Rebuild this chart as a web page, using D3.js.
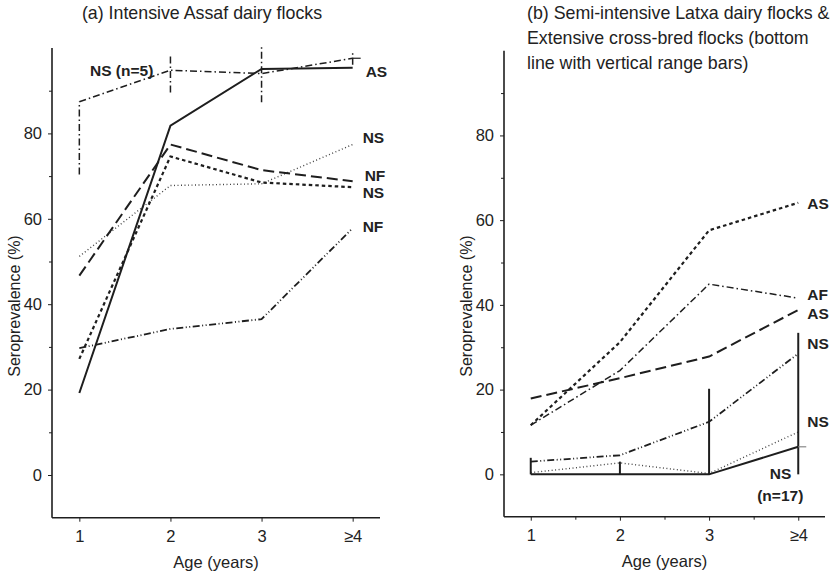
<!DOCTYPE html>
<html><head><meta charset="utf-8">
<script src="https://cdn.jsdelivr.net/npm/d3@7"></script>
<style>body{margin:0;background:#fff}svg{display:block}text{font-family:"Liberation Sans",Arial,sans-serif;fill:#222}</style>
</head><body><svg id="c" width="835" height="574"></svg>
<script>
// ---- data ----
const ages = [1, 2, 3, 4];
const xTickLabels = ["1", "2", "3", "\u22654"];
const yMajorTicks = [0, 20, 40, 60, 80];
const yMinorTicks = [10, 30, 50, 70, 90];
const xMinorTicksB = [1.5, 2.5, 3.5];

// panel (a)
const aSolidAS = [19.2, 81.8, 95.1, 95.4];
const aDashDotNS = [87.4, 94.8, 94.0, 97.6];
const aDashDotLow = [70.4, 89.6, 87.3, 96.1];
const aDashDotHigh = [87.4, 98.7, 100.3, 99.2];
const aLongDashNF = [46.7, 77.4, 71.4, 68.8];
const aShortDashNS = [27.2, 74.6, 68.5, 67.4];
const aDottedNS = [51.2, 67.8, 68.2, 77.4];
const aDashDotDotNF = [29.7, 34.2, 36.5, 57.8];
const aLabelText = ["AS", "NS", "NF", "NS", "NF"];
const aLabelValue = [94.5, 79.0, 70.2, 66.2, 58.2];

// panel (b)
const bShortDashAS = [11.6, 31.2, 57.6, 64.1];
const bDashDotAF = [11.6, 24.5, 44.9, 41.6];
const bLongDashAS = [17.9, 22.7, 27.8, 38.8];
const bDashDotDotNS = [3.0, 4.5, 12.4, 28.5];
const bDottedNS = [0.4, 2.7, 0.2, 10.0];
const bSolidNS = [0, 0, 0, 6.5];
const bRangeLow = [0, 0, 0, 0];
const bRangeHigh = [3.9, 3.0, 20.2, 33.4];
const bLabelText = ["AS", "AF", "AS", "NS", "NS"];
const bLabelValue = [63.9, 42.4, 38.0, 30.9, 12.5];

// ---- drawing ----
const svg = d3.select("#c");
const ink = "#1e1e1e";

const styles = {
  solid:   {w: 2.0, dash: null, c: ink},
  longdash:{w: 2.0, dash: "11,5", c: ink},
  short:   {w: 2.2, dash: "3.5,3", c: ink},
  dotted:  {w: 1.4, dash: "1,2.5", c: "#444"},
  dashdot: {w: 1.5, dash: "7,3,1.5,3", c: ink},
  dashdotdot: {w: 1.8, dash: "7,2.5,1,2.5,1,2.5", c: ink}
};

function panel(opts) {
  const g = svg.append("g");
  const x = d3.scaleLinear().domain([0.7, 4.3]).range(opts.xr);
  const y = d3.scaleLinear().domain([-10, 100]).range(opts.yr);
  const line = d3.line().x((d, i) => x(ages[i])).y(d => y(d));

  // axes
  const yAx = g.append("g").attr("transform", `translate(${opts.xr[0]},0)`)
    .call(d3.axisLeft(y).tickValues(yMajorTicks).tickSize(4).tickPadding(6));
  yAx.append("g").call(d3.axisLeft(y).tickValues(yMinorTicks).tickSize(3).tickFormat(""));
  const xAx = g.append("g").attr("transform", `translate(0,${opts.yr[0]})`)
    .call(d3.axisBottom(x).tickValues(ages).tickFormat((d, i) => xTickLabels[i]).tickSize(4).tickPadding(9));
  if (opts.xMinor) xAx.append("g").call(d3.axisBottom(x).tickValues(opts.xMinor).tickSize(3).tickFormat(""));
  yAx.select(".domain").attr("d", `M0,${opts.yr[0]}V${opts.yr[1]}`);
  xAx.select(".domain").attr("d", `M${opts.xr[0]},0H${opts.xr[1]}`);
  yAx.selectAll("g").select(".domain").remove();
  xAx.selectAll("g").select(".domain").remove();
  g.selectAll(".domain").attr("stroke", ink).attr("stroke-width", 1.6);
  g.selectAll(".tick line").attr("stroke", ink).attr("stroke-width", 1);
  g.selectAll(".tick text").style("font-size", "16.5px").attr("fill", "#222")
    .style("font-family", '"Liberation Sans",Arial,sans-serif');

  // axis titles
  g.append("text").attr("x", (opts.xr[0] + opts.xr[1]) / 2).attr("y", opts.yr[0] + 50)
    .attr("text-anchor", "middle").style("font-size", "16.5px").text("Age (years)");
  g.append("text").attr("transform", `translate(${opts.xr[0] - 32},${opts.ylabY}) rotate(-90)`)
    .attr("text-anchor", "middle").style("font-size", "16px").text("Seroprevalence (%)");

  function draw(vals, st) {
    const s = styles[st];
    g.append("path").attr("d", line(vals)).attr("fill", "none").attr("stroke", s.c)
      .attr("stroke-width", s.w).attr("stroke-dasharray", s.dash).attr("stroke-linejoin", "miter");
  }
  function bars(lo, hi, st) {
    const s = styles[st];
    ages.forEach((a, i) => {
      g.append("line").attr("x1", x(a)).attr("x2", x(a)).attr("y1", y(lo[i])).attr("y2", y(hi[i]))
        .attr("stroke", s.c).attr("stroke-width", s.w).attr("stroke-dasharray", s.dash);
    });
  }
  function labels(txt, vals, dx) {
    txt.forEach((t, i) => {
      g.append("text").attr("x", x(4) + dx[i]).attr("y", y(vals[i])).attr("dy", "0.36em")
        .style("font-size", "15.5px").style("font-weight", "bold").text(t);
    });
  }
  return {g, x, y, draw, bars, labels};
}

// panel (a)
const A = panel({xr: [52, 380], yr: [517.7, 48], ylabY: 306});
A.draw(aDottedNS, "dotted");
A.draw(aDashDotDotNF, "dashdotdot");
A.draw(aShortDashNS, "short");
A.draw(aLongDashNF, "longdash");
A.draw(aDashDotNS, "dashdot");
A.bars(aDashDotLow, aDashDotHigh, "dashdot");
A.g.append("line").attr("x1", A.x(4)).attr("x2", A.x(4) + 8)
  .attr("y1", A.y(aDashDotNS[3])).attr("y2", A.y(aDashDotNS[3])).attr("stroke", ink).attr("stroke-width", 1.2);
A.draw(aSolidAS, "solid");
A.labels(aLabelText, aLabelValue, [13, 10, 12, 10, 10]);
A.g.append("text").attr("x", 90).attr("y", A.y(aDashDotNS[3]) + 6 + 12)
  .style("font-size", "15.5px").style("font-weight", "bold").text("NS (n=5)");
svg.append("text").attr("x", 202).attr("y", 19).attr("text-anchor", "middle")
  .style("font-size", "17.8px").text("(a) Intensive Assaf dairy flocks");

// panel (b)
const B = panel({xr: [504, 825], yr: [516.7, 50.7], ylabY: 306, xMinor: xMinorTicksB});
B.draw(bDottedNS, "dotted");
B.draw(bDashDotDotNS, "dashdotdot");
B.draw(bShortDashAS, "short");
B.draw(bLongDashAS, "longdash");
B.draw(bDashDotAF, "dashdot");
B.draw(bSolidNS, "solid");
B.bars(bRangeLow, bRangeHigh, "solid");
B.g.append("line").attr("x1", B.x(4)).attr("x2", B.x(4) + 8)
  .attr("y1", B.y(bSolidNS[3])).attr("y2", B.y(bSolidNS[3])).attr("stroke", "#888").attr("stroke-width", 1.2);
B.labels(bLabelText, bLabelValue, [9, 9, 9, 9, 9]);
B.g.append("text").attr("x", B.x(4) - 7).attr("y", B.y(bSolidNS[0]) + 5)
  .attr("text-anchor", "end").style("font-size", "15.5px").style("font-weight", "bold").text("NS");
B.g.append("text").attr("x", B.x(4) - 18).attr("y", B.y(bSolidNS[0]) + 27)
  .attr("text-anchor", "middle").style("font-size", "15.5px").style("font-weight", "bold").text("(n=17)");
const titleB = ["(b) Semi-intensive Latxa dairy flocks &", "Extensive cross-bred flocks (bottom", "line with vertical range bars)"];
titleB.forEach((t, i) => svg.append("text").attr("x", 527).attr("y", 19 + i * 25)
  .style("font-size", "17.8px").text(t));
</script></body></html>
